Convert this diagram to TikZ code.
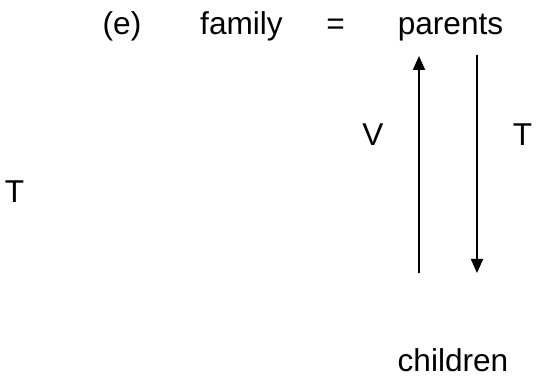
\documentclass[tikz,border=0pt]{standalone}
\usepackage{fontspec}
\setmainfont{Liberation Sans}
\usetikzlibrary{arrows.meta}
\begin{document}
\begin{tikzpicture}[x=1pt,y=-1pt,
  lbl/.style={anchor=base,inner sep=0pt,font=\fontsize{31.6}{38}\selectfont},
  conn/.style={line width=2pt,-{Triangle[width=12pt,length=14pt]}}]
\useasboundingbox[fill=white] (0,0) rectangle (542,379);
\node[lbl] (e) at (122,35) {(e)};
\node[lbl] (family) at (241.5,35) {family};
\node[lbl] (eq) at (335.5,35) {=};
\node[lbl] (parents) at (450.5,35) {parents};
\node[lbl] (children) at (453,372) {children};
\node[lbl] (V) at (373,146) {V};
\node[lbl] (T1) at (522.5,146) {T};
\node[lbl] (T2) at (14.5,203) {T};
\coordinate (upS) at (419,273);
\coordinate (upE) at (419,56);
\coordinate (dnS) at (477,55);
\coordinate (dnE) at (477,273);
\draw[conn] (upS) -- (upE);
\draw[conn] (dnS) -- (dnE);
\end{tikzpicture}
\end{document}
